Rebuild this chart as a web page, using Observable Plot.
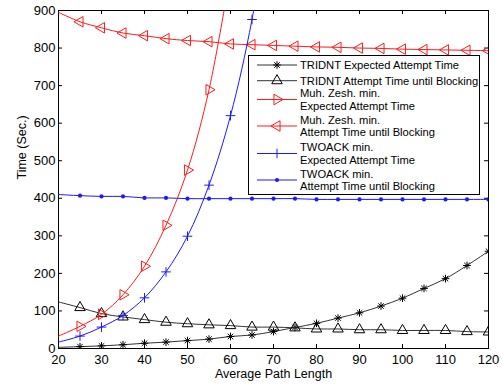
<!DOCTYPE html>
<html><head><meta charset="utf-8">
<script src="https://cdn.jsdelivr.net/npm/d3@7"></script>
<script src="https://cdn.jsdelivr.net/npm/@observablehq/plot@0.6"></script>
<style>body{margin:0;background:#fff}#chart{width:503px;height:387px}</style>
</head><body><div id="chart"></div>
<script>
// ---- data ----
const pathLength = [20,25,30,35,40,45,50,55,60,65,70,75,80,85,90,95,100,105,110,115,120];
const tridntExpected = [3,5,7,10,14,17,21,25,32,36,45,56,67,81,95,113,134,160,186,221,259];
const tridntBlocking = [124,109,93,84,77,70,66,63,61,57,57,55,52,52,50,50,48,48,48,45,44];
const muhExpected    = [33,59,91,143,219,328,475,689,1000];
const muhBlocking    = [895,870,854,840,833,825,820,817,811,809,807,805,803,802,800,799,797,796,795,794,793];
const twoackExpected = [17,33,57,88,135,204,299,435,620,876,1240];
const twoackBlocking = [410,407,405,405,401,401,399,399,399,399,399,399,397,397,397,397,397,397,397,397,397];
const xTicks = [20,30,40,50,60,70,80,90,100,110,120];
const yTicks = [0,100,200,300,400,500,600,700,800,900];
const seriesNames = [
  "TRIDNT Expected Attempt Time",
  "TRIDNT Attempt Time until Blocking",
  "Muh. Zesh. min.\nExpected Attempt Time",
  "Muh. Zesh. min.\nAttempt Time until Blocking",
  "TWOACK min.\nExpected Attempt Time",
  "TWOACK min.\nAttempt Time until Blocking"
];
const xLabel = "Average Path Length";
const yLabel = "Time (Sec.)";

// ---- build ----
const toRows = ys => ys.map((y, i) => ({x: pathLength[i], y}));
const markerRows = ys => toRows(ys).filter(d => d.x >= 25);
const BLACK = "#333", RED = "#ff1a1a", BLUE = "#1a1aff";
const font = '"Liberation Sans", Arial, Helvetica, sans-serif';

const styles = [
  {data: tridntExpected, stroke: BLACK, marks: [{symbol: "plus", r: 2.6, stroke: "#000"}, {symbol: "times", r: 2.6, stroke: "#000"}]},
  {data: tridntBlocking, stroke: BLACK, marks: [{symbol: "triangle", r: 3.9, stroke: "#000"}]},
  {data: muhExpected, stroke: RED, marks: [{symbol: "triangle", r: 3.9, stroke: RED, rotate: 90}]},
  {data: muhBlocking, stroke: RED, marks: [{symbol: "triangle", r: 3.9, stroke: RED, rotate: -90}]},
  {data: twoackExpected, stroke: BLUE, marks: [{symbol: "plus", r: 3.2, stroke: BLUE}]},
  {data: twoackBlocking, stroke: BLUE, marks: [{symbol: "circle", r: 2.1, fill: BLUE, stroke: "none"}]}
];

const marks = [
  Plot.frame({stroke: "#000"}),
  Plot.tickX(xTicks.slice(1, -1), {x: d => d, insetTop: 334, stroke: "#000"}),
  Plot.tickX(xTicks.slice(1, -1), {x: d => d, insetBottom: 334, stroke: "#000"}),
  Plot.tickY(yTicks.slice(1, -1), {y: d => d, insetRight: 426, stroke: "#000"}),
  Plot.tickY(yTicks.slice(1, -1), {y: d => d, insetLeft: 426, stroke: "#000"}),
  Plot.axisX({ticks: xTicks, tickSize: 0, tickPadding: 6, label: null, fontSize: 13}),
  Plot.axisY({ticks: yTicks, tickSize: 0, tickPadding: 3, label: null, fontSize: 13}),
  Plot.text([xLabel], {frameAnchor: "bottom", dy: 29.5, fontSize: 12.5, fill: "#000"}),
  Plot.text([yLabel], {frameAnchor: "left", dx: -37, rotate: -90, fontSize: 12.5, fill: "#000"})
];
for (const s of styles) {
  marks.push(Plot.line(toRows(s.data), {x: "x", y: "y", stroke: s.stroke, strokeWidth: 1, curve: "catmull-rom", clip: true}));
  for (const m of s.marks) {
    marks.push(Plot.dot(markerRows(s.data), {x: "x", y: "y", symbol: m.symbol, r: m.r, stroke: m.stroke, fill: m.fill || "none", rotate: m.rotate || 0, strokeWidth: 1, clip: true}));
  }
}

const svg = Plot.plot({
  width: 503, height: 387,
  marginLeft: 58, marginRight: 15, marginTop: 10, marginBottom: 39,
  style: {fontFamily: font, fontSize: "13px", color: "#000", background: "#fff", overflow: "visible"},
  x: {domain: [20, 120]},
  y: {domain: [0, 900]},
  marks
});
document.getElementById("chart").append(svg);

// ---- legend (drawn into the same svg) ----
const lg = d3.select(svg).append("g").attr("font-family", font).attr("font-size", 11.2).attr("text-anchor", "start");
lg.append("rect").attr("x", 248.5).attr("y", 55.5).attr("width", 231).attr("height", 139)
  .attr("fill", "#fff").attr("stroke", "#000").attr("stroke-width", 1);
const rowCenters = [65, 80.7, 99.5, 126, 153.5, 180];
const symMap = {plus: d3.symbolPlus, times: d3.symbolTimes, triangle: d3.symbolTriangle, circle: d3.symbolCircle};
seriesNames.forEach((name, i) => {
  const cy = rowCenters[i], s = styles[i];
  lg.append("line").attr("x1", 257).attr("x2", 297).attr("y1", cy).attr("y2", cy)
    .attr("stroke", s.stroke).attr("stroke-width", 1);
  for (const m of s.marks) {
    lg.append("path").attr("d", d3.symbol(symMap[m.symbol], Math.PI * m.r * m.r)())
      .attr("transform", `translate(277,${cy}) rotate(${m.rotate || 0})`)
      .attr("fill", m.fill || "none").attr("stroke", m.stroke);
  }
  const lines = name.split("\n");
  lines.forEach((t, j) => {
    lg.append("text").attr("x", 300).attr("y", cy + (j - (lines.length - 1) / 2) * 12.6)
      .attr("dominant-baseline", "central").attr("text-anchor", "start").attr("fill", "#000").text(t);
  });
});
</script></body></html>
